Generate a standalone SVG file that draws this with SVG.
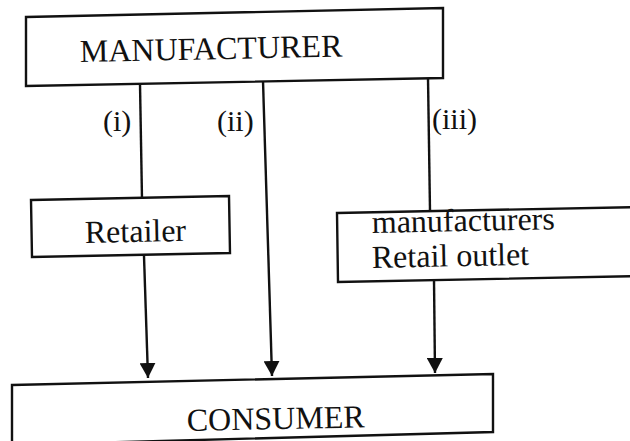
<svg xmlns="http://www.w3.org/2000/svg" width="630" height="441" viewBox="0 0 630 441">
<defs>
<style>
.box{fill:none;stroke:#111;stroke-width:2.4;stroke-linejoin:miter}
.lbl{font-family:"Liberation Serif","Times New Roman",serif;font-size:32px;fill:#111}
.num{font-family:"Liberation Serif","Times New Roman",serif;font-size:30px;fill:#111}
.ln{stroke:#111;stroke-width:2.4;fill:none}
</style>
<marker id="ah" viewBox="0 0 15 16" refX="15" refY="8" markerWidth="15" markerHeight="16" markerUnits="userSpaceOnUse" orient="auto">
<path d="M0,0 L15,8 L0,16 z" fill="#111"/>
</marker>
</defs>
<rect width="630" height="441" fill="#fff"/>
<g id="manufacturer">
<polygon class="box" points="26,17 443,8 443,78 26,86"/>
<text class="lbl" x="80" y="62" transform="rotate(-1.2 80 62)">MANUFACTURER</text>
</g>
<g id="retailer">
<polygon class="box" points="31,200 229,196 230,253 32,257"/>
<text class="lbl" x="85" y="243" transform="rotate(-1.2 85 243)">Retailer</text>
</g>
<g id="outlet">
<polygon class="box" points="337,213 640,207 640,276 338,282"/>
<text class="lbl" x="372" y="233" transform="rotate(-1.2 372 233)">manufacturers</text>
<text class="lbl" x="372" y="268" transform="rotate(-1.2 372 268)">Retail outlet</text>
</g>
<g id="consumer">
<polygon class="box" points="12,385 493,374 493,432 12,445"/>
<text class="lbl" x="187" y="431" transform="rotate(-1.2 187 431)">CONSUMER</text>
</g>
<g id="connectors">
<line class="ln" x1="140" y1="84" x2="142" y2="199"/>
<line class="ln" x1="144" y1="256" x2="148" y2="378" marker-end="url(#ah)"/>
<line class="ln" x1="263" y1="81" x2="272" y2="376" marker-end="url(#ah)"/>
<line class="ln" x1="428" y1="78" x2="430" y2="211"/>
<line class="ln" x1="434" y1="280" x2="435" y2="373" marker-end="url(#ah)"/>
<text class="num" x="103" y="131">(i)</text>
<text class="num" x="217" y="131">(ii)</text>
<text class="num" x="432" y="129">(iii)</text>
</g>
</svg>
